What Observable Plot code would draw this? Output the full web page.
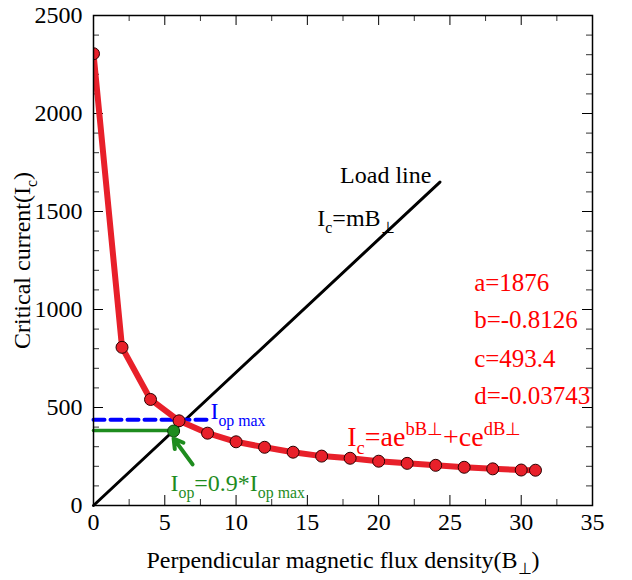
<!DOCTYPE html>
<html><head><meta charset="utf-8">
<script src="https://cdn.jsdelivr.net/npm/d3@7"></script>
<script src="https://cdn.jsdelivr.net/npm/@observablehq/plot@0.6"></script>
<style>body{margin:0;background:#fff}</style>
</head><body><div id="chart"></div>
<script>
// ---- data ----
const fieldB    = [0, 2, 4, 6, 8, 10, 12, 14, 16, 18, 20, 22, 24, 26, 28, 30, 31];
const criticalI = [2305, 807, 541, 432, 369, 325, 297, 272, 252, 241, 226, 215, 205, 195, 187, 181, 180];
const xTicks = [0, 5, 10, 15, 20, 25, 30, 35];
const yTicks = [0, 500, 1000, 1500, 2000, 2500];
const xMinor = [2.5, 7.5, 12.5, 17.5, 22.5, 27.5, 32.5];
const yMinor = [100, 200, 300, 400, 600, 700, 800, 900, 1100, 1200, 1300, 1400, 1600, 1700, 1800, 1900, 2100, 2200, 2300, 2400];
const loadLineB = [0, 24.3];
const loadLineI = [0, 1650];
const iopMaxB = [0, 8.0];
const iopMaxI = [437, 437];
const iopB = [0, 5.85];
const iopI = [383, 383];
const opPointB = [5.62];
const opPointI = [380];
const arrowStart = [6.95, 210];
const arrowEnd = [5.62, 342];
const labelText = ["Load line", "I_{c}=mB_{⊥}", "a=1876", "b=-0.8126", "c=493.4", "d=-0.03743",
  "I_{c}=ae^{bB⊥}+ce^{dB⊥}", "I_{op max}", "I_{op}=0.9*I_{op max}"];
const labelB = [23.7, 15.7, 26.7, 26.7, 26.7, 26.7, 17.8, 8.2, 5.4];
const labelI = [1684, 1464, 1133, 944, 750, 561, 347, 480, 112];
const labelAnchor = ["end", "start", "start", "start", "start", "start", "start", "start", "start"];
const labelColor = ["black", "black", "#ff0000", "#ff0000", "#ff0000", "#ff0000", "#ff0000", "#0000ff", "#1e8c1e"];
const labelSize = [24, 24, 25, 25, 25, 25, 28, 24, 24];
const xLabel = "Perpendicular magnetic flux density(B_{⊥})";
const yLabel = "Critical current(I_{c})";

// ---- tables ----
const curve = fieldB.map((b, k) => ({b, i: criticalI[k]}));
const load = loadLineB.map((b, k) => ({b, i: loadLineI[k]}));
const blueLine = iopMaxB.map((b, k) => ({b, i: iopMaxI[k]}));
const greenLine = iopB.map((b, k) => ({b, i: iopI[k]}));
const opPt = opPointB.map((b, k) => ({b, i: opPointI[k]}));
const arrow = [{x1: arrowStart[0], y1: arrowStart[1], x2: arrowEnd[0], y2: arrowEnd[1]}];

const W = 632, H = 580, mL = 93, mR = 40, mT = 15, mB = 75;
const FW = W - mL - mR, FH = H - mT - mB;
const red = "#e8202a", green = "#1e8c1e";
const serif = "Liberation Serif";
const inner = (a, lo, hi) => a.filter(v => v > lo && v < hi);

const marks = [
  Plot.ruleX(inner(xTicks, 0, 35), {insetTop: FH - 10, stroke: "black", strokeWidth: 1}),
  Plot.ruleX(inner(xTicks, 0, 35), {insetBottom: FH - 10, stroke: "black", strokeWidth: 1}),
  Plot.ruleX(xMinor, {insetTop: FH - 6, stroke: "#333", strokeWidth: 1}),
  Plot.ruleX(xMinor, {insetBottom: FH - 6, stroke: "#333", strokeWidth: 1}),
  Plot.ruleY(inner(yTicks, 0, 2500), {insetRight: FW - 10, stroke: "black", strokeWidth: 1}),
  Plot.ruleY(inner(yTicks, 0, 2500), {insetLeft: FW - 10, stroke: "black", strokeWidth: 1}),
  Plot.ruleY(yMinor, {insetRight: FW - 6, stroke: "#333", strokeWidth: 1}),
  Plot.ruleY(yMinor, {insetLeft: FW - 6, stroke: "#333", strokeWidth: 1}),
  Plot.line(load, {x: "b", y: "i", stroke: "black", strokeWidth: 3}),
  Plot.line(blueLine, {x: "b", y: "i", stroke: "#0000ff", strokeWidth: 4, strokeDasharray: "11,6"}),
  Plot.line(greenLine, {x: "b", y: "i", stroke: green, strokeWidth: 3.5}),
  Plot.line(curve, {x: "b", y: "i", stroke: red, strokeWidth: 6, clip: true}),
  Plot.dot(curve, {x: "b", y: "i", r: 6, fill: red, stroke: "#2a0000", strokeWidth: 1, clip: true}),
  Plot.dot(opPt, {x: "b", y: "i", r: 6, fill: green, stroke: "#0a3a0a", strokeWidth: 1}),
  Plot.arrow(arrow, {x1: "x1", y1: "y1", x2: "x2", y2: "y2", stroke: green, strokeWidth: 4, headLength: 24, headAngle: 60}),
  Plot.frame({stroke: "black", strokeWidth: 1.5}),
  // tick labels
  Plot.text(xTicks, {x: d => d, frameAnchor: "bottom", lineAnchor: "middle", textAnchor: "middle", dy: 17,
    text: d => String(d), fontSize: 24, fontFamily: serif, fill: "black"}),
  Plot.text(yTicks, {y: d => d, frameAnchor: "left", lineAnchor: "middle", textAnchor: "end", dx: -11,
    text: d => String(d), fontSize: 24, fontFamily: serif, fill: "black"}),
  // axis titles
  Plot.text([xLabel], {frameAnchor: "bottom", textAnchor: "middle", dy: 62, text: d => d, fontSize: 24, fontFamily: serif, fill: "black"}),
  Plot.text([yLabel], {frameAnchor: "left", textAnchor: "middle", dx: -71, rotate: -90, text: d => d, fontSize: 24, fontFamily: serif, fill: "black"})
];
labelText.forEach((t, k) => {
  marks.push(Plot.text([t], {x: () => labelB[k], y: () => labelI[k], text: d => d,
    textAnchor: labelAnchor[k], fill: labelColor[k], fontSize: labelSize[k], fontFamily: serif}));
});

const chart = Plot.plot({
  width: W, height: H,
  marginLeft: mL, marginRight: mR, marginTop: mT, marginBottom: mB,
  x: {domain: [0, 35], axis: null},
  y: {domain: [0, 2500], axis: null},
  style: {fontFamily: "'Liberation Serif', 'Times New Roman', serif", background: "white", color: "black"},
  marks
});
document.getElementById("chart").appendChild(chart);

// rich text: _{..} subscript, ^{..} superscript
chart.querySelectorAll("text").forEach(el => {
  const s = el.textContent;
  if (!/[_^]\{/.test(s)) return;
  const fs = parseFloat(getComputedStyle(el).fontSize) || 24;
  const re = /([_^])\{([^}]*)\}|([^_^]+)/g;
  let m, cur = 0;
  el.textContent = "";
  while ((m = re.exec(s))) {
    const ts = document.createElementNS("http://www.w3.org/2000/svg", "tspan");
    let target = 0, size = fs, txt = m[3];
    if (m[1] === "_") { target = 0.28 * fs; size = 0.66 * fs; txt = m[2]; }
    else if (m[1] === "^") { target = -0.42 * fs; size = 0.66 * fs; txt = m[2]; }
    ts.textContent = txt;
    ts.setAttribute("font-size", size);
    if (target !== cur) ts.setAttribute("dy", target - cur);
    cur = target;
    el.appendChild(ts);
  }
});
</script>
</body></html>
